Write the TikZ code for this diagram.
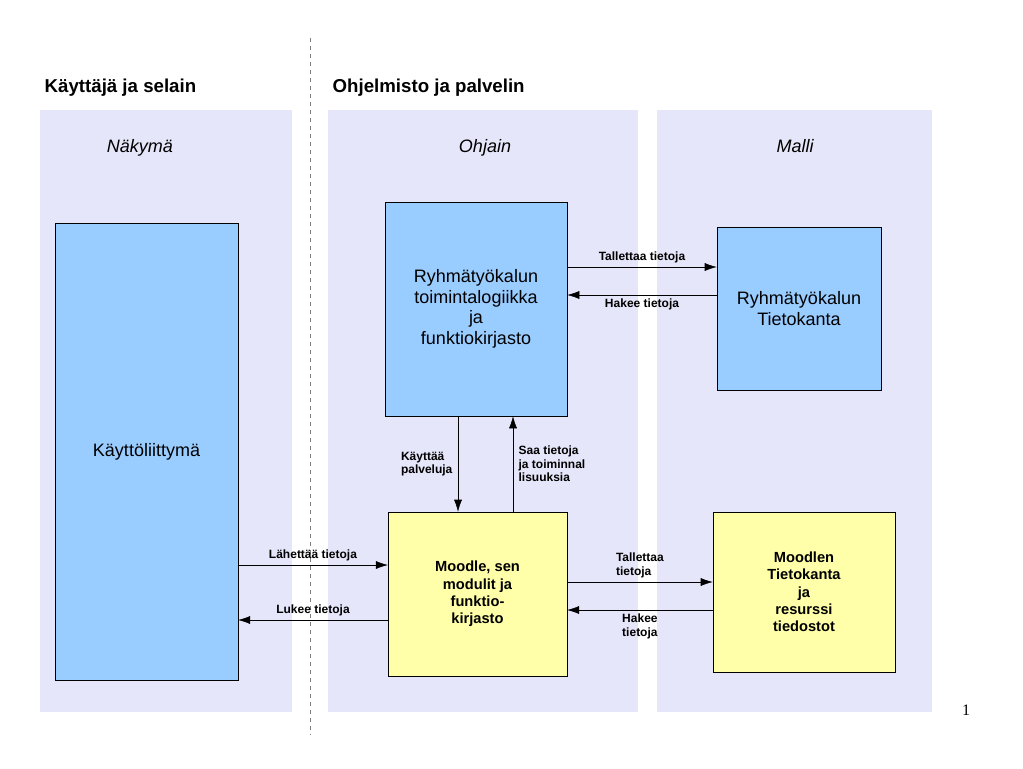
\documentclass[tikz,border=0pt]{standalone}
\usetikzlibrary{arrows.meta}
\usepackage{fontspec}
\setmainfont{Liberation Sans}
\newfontfamily\serifnum{Liberation Serif}
\begin{document}
\begin{tikzpicture}[x=0.75pt,y=-0.75pt,
 bluebox/.style={draw=black,fill=boxblue,align=center,font=\fontsize{13.5}{15.5}\selectfont},
 yelbox/.style={draw=black,fill=boxyel,align=center,font=\fontsize{11}{13}\selectfont\bfseries},
 hdr/.style={anchor=base,font=\fontsize{13.5}{15}\selectfont\itshape},
 arr/.style={-{Latex[length=9pt,width=6pt]},thin},
 lab/.style={font=\fontsize{9}{10}\selectfont\bfseries,align=left,inner sep=1pt}]
\definecolor{lav}{RGB}{230,230,250}
\definecolor{boxblue}{RGB}{153,204,255}
\definecolor{boxyel}{RGB}{255,255,170}
\useasboundingbox[fill=white] (0,0) rectangle (1023,768);
\draw[gray,dashed] (310,38) -- (310,735);
\node[anchor=west,font=\fontsize{14}{16}\selectfont\bfseries] (t1) at (40,88) {Käyttäjä ja selain};
\node[anchor=west,font=\fontsize{14}{16}\selectfont\bfseries] (t2) at (328,88) {Ohjelmisto ja palvelin};
\fill[lav] (40,110) rectangle (292,712);
\fill[lav] (328,110) rectangle (638,712);
\fill[lav] (657,110) rectangle (932,712);
\node[hdr] (h1) at (140,152) {Näkymä};
\node[hdr] (h2) at (485,152) {Ohjain};
\node[hdr] (h3) at (795,152) {Malli};
\node[bluebox,minimum width=137pt,minimum height=343pt] (ui) at (146.5,451.5) {Käyttöliittymä};
\node[bluebox,minimum width=136.5pt,minimum height=160.5pt] (logic) at (476,309) {Ryhmätyökalun\\toimintalogiikka\\ja\\funktiokirjasto};
\node[bluebox,minimum width=123pt,minimum height=122pt] (db) at (799,308.5) {Ryhmätyökalun\\Tietokanta};
\node[yelbox,minimum width=134pt,minimum height=123pt] (moodle) at (477.5,594) {Moodle, sen\\modulit ja\\funktio-\\kirjasto};
\node[yelbox,minimum width=136.5pt,minimum height=120pt] (mdb) at (804,592) {Moodlen\\Tietokanta\\ja\\resurssi\\tiedostot};
\draw[arr] (logic.east|-0,267) -- (db.west|-0,267) node[lab,midway,above=2pt] (l1) {Tallettaa tietoja};
\draw[arr] (db.west|-0,295) -- (logic.east|-0,295) node[lab,midway,below=2pt] (l2) {Hakee tietoja};
\draw[arr] (458,0|-logic.south) -- (458,0|-moodle.north) node[lab,midway,left=3pt] (l3) {Käyttää\\palveluja};
\draw[arr] (513,0|-moodle.north) -- (513,0|-logic.south) node[lab,midway,right=3pt] (l4) {Saa tietoja\\ja toiminnal\\lisuuksia};
\draw[arr] (ui.east|-0,565) -- (moodle.west|-0,565) node[lab,midway,above=2pt] (l5) {Lähettää tietoja};
\draw[arr] (moodle.west|-0,620) -- (ui.east|-0,620) node[lab,midway,above=2pt] (l6) {Lukee tietoja};
\draw[arr] (moodle.east|-0,582) -- (mdb.west|-0,582) node[lab,midway,above=2pt] (l7) {Tallettaa\\tietoja};
\draw[arr] (mdb.west|-0,610) -- (moodle.east|-0,610) node[lab,midway,below=2pt] (l8) {Hakee\\tietoja};
\node[font=\serifnum\fontsize{12}{14}\selectfont] (pg) at (966,710) {1};
\end{tikzpicture}
\end{document}
